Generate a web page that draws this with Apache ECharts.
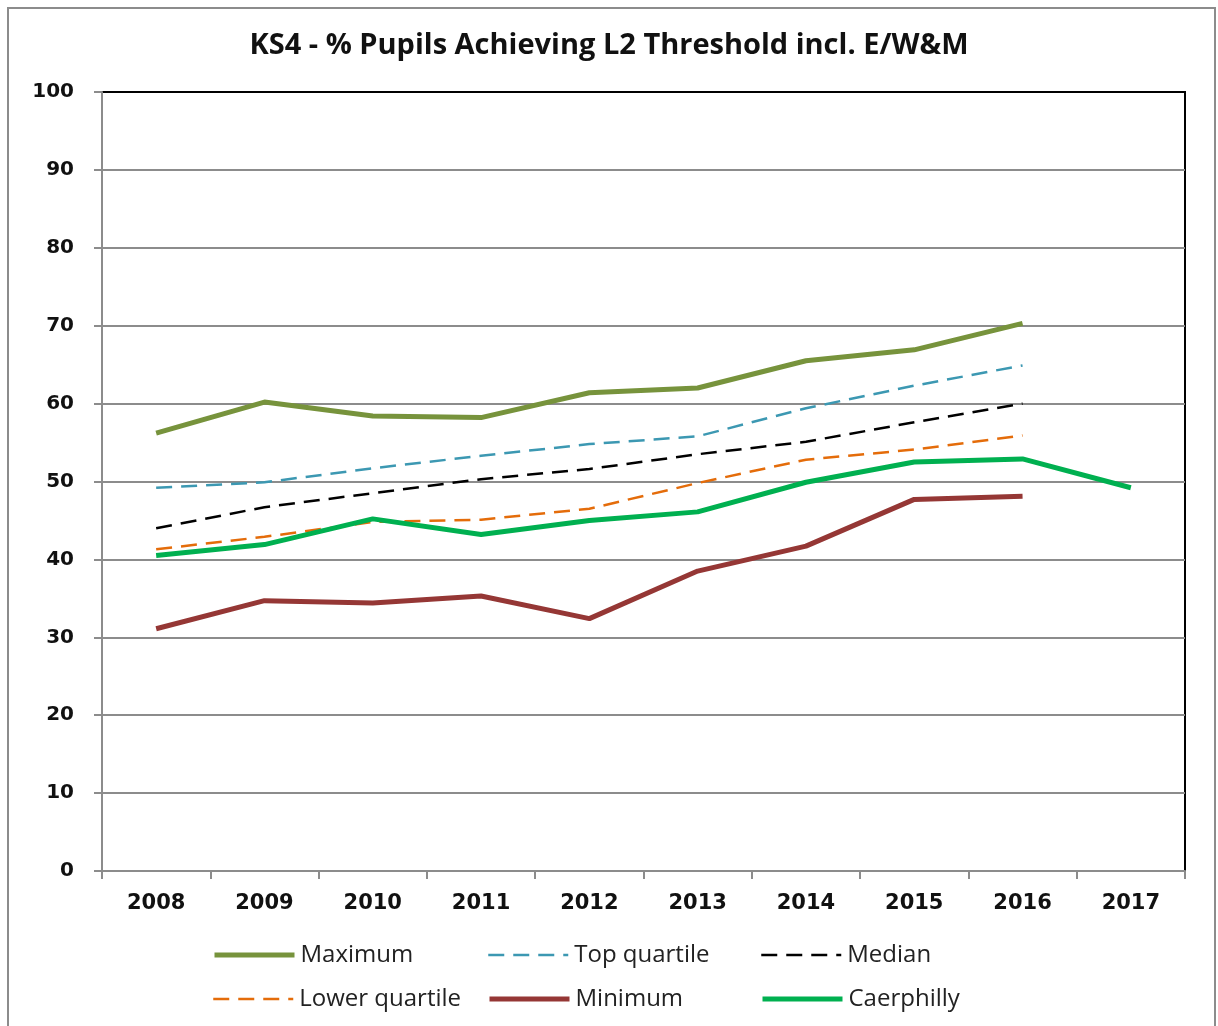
<!DOCTYPE html>
<html>
<head>
<meta charset="utf-8">
<script src="https://cdn.jsdelivr.net/npm/echarts@6/dist/echarts.min.js"></script>
<style>
  html, body { margin: 0; padding: 0; background: #fff; }
  #chart { width: 1218px; height: 1026px; }
</style>
</head>
<body>
<div id="chart"></div>
<script>
// data
var years = ['2008', '2009', '2010', '2011', '2012', '2013', '2014', '2015', '2016', '2017']
var maximum = [56.2, 60.2, 58.4, 58.2, 61.4, 62.0, 65.5, 66.9, 70.3, null]
var topQuartile = [49.2, 49.9, 51.7, 53.3, 54.8, 55.8, 59.4, 62.3, 64.9, null]
var median = [44.0, 46.7, 48.5, 50.3, 51.6, 53.5, 55.1, 57.6, 60.0, null]
var lowerQuartile = [41.3, 42.9, 44.8, 45.1, 46.5, 49.8, 52.8, 54.1, 55.9, null]
var minimum = [31.1, 34.7, 34.4, 35.3, 32.4, 38.5, 41.7, 47.7, 48.1, null]
var caerphilly = [40.5, 41.9, 45.2, 43.2, 45.0, 46.1, 49.9, 52.5, 52.9, 49.2]
var yTicks = { min: 0, max: 100, step: 10 }

var chart = echarts.init(document.getElementById('chart'))

// one legend per entry so the items sit in fixed columns
function legendAt (name, left, top, width) {
  return {
    data: [name],
    left: left,
    top: top,
    padding: 0,
    itemWidth: 80,
    itemHeight: 14,
    itemGap: 0,
    itemStyle: { opacity: 0 },
    lineStyle: { width: width },
    textStyle: { fontFamily: 'Open Sans', fontSize: 24, color: '#222', padding: [0, 0, 0, 1] }
  }
}

function lineSeries (name, data, color, width, dash) {
  return {
    name: name,
    type: 'line',
    data: data,
    symbol: 'none',
    connectNulls: false,
    lineStyle: { color: color, width: width, type: dash || 'solid' },
    itemStyle: { color: color }
  }
}

// grid lines gray, the top one black like the frame
var splitColors = []
for (var i = yTicks.min; i < yTicks.max; i += yTicks.step) splitColors.push('#8c8c8c')
splitColors.push('#000')

var option = {
  animation: false,
  title: {
    text: 'KS4 - % Pupils Achieving L2 Threshold incl. E/W&M',
    left: 'center',
    top: 26,
    textStyle: { fontFamily: 'Open Sans', fontWeight: 'bold', fontSize: 29, color: '#111' }
  },
  graphic: [{
    type: 'rect',
    shape: { x: 8, y: 8, width: 1207, height: 1040 },
    style: { fill: 'none', stroke: '#8c8c8c', lineWidth: 2 },
    silent: true
  }],
  legend: [
    legendAt('Maximum', 212, 943, 5),
    legendAt('Top quartile', 487, 943, 2.5),
    legendAt('Median', 760, 943, 2.5),
    legendAt('Lower quartile', 212, 987, 2.5),
    legendAt('Minimum', 487, 987, 5),
    legendAt('Caerphilly', 760, 987, 5)
  ],
  grid: {
    left: 102,
    right: 33,
    top: 92,
    bottom: 155,
    show: true,
    borderColor: '#000',
    borderWidth: 2,
    containLabel: false
  },
  xAxis: {
    type: 'category',
    data: years,
    boundaryGap: true,
    axisLine: { lineStyle: { color: '#8c8c8c', width: 2 } },
    axisTick: { show: true, alignWithLabel: false, length: 8, lineStyle: { color: '#8c8c8c', width: 2 } },
    axisLabel: { fontFamily: 'DejaVu Sans', fontWeight: 'bold', fontSize: 21, color: '#111', margin: 22 }
  },
  yAxis: {
    type: 'value',
    min: yTicks.min,
    max: yTicks.max,
    interval: yTicks.step,
    axisLine: { show: true, lineStyle: { color: '#8c8c8c', width: 2 } },
    axisTick: { show: true, length: 8, lineStyle: { color: '#8c8c8c', width: 2 } },
    splitLine: { lineStyle: { color: splitColors, width: 2 } },
    axisLabel: { fontFamily: 'DejaVu Sans', fontWeight: 'bold', fontSize: 20, color: '#111', margin: 28 }
  },
  series: [
    lineSeries('Maximum', maximum, '#77933c', 5),
    lineSeries('Top quartile', topQuartile, '#3c98b2', 2.5, [16, 9]),
    lineSeries('Median', median, '#000', 2.5, [16, 9]),
    lineSeries('Lower quartile', lowerQuartile, '#e46c0a', 2.5, [16, 9]),
    lineSeries('Minimum', minimum, '#953735', 5),
    lineSeries('Caerphilly', caerphilly, '#00b050', 5)
  ]
}

chart.setOption(option)
</script>
</body>
</html>
